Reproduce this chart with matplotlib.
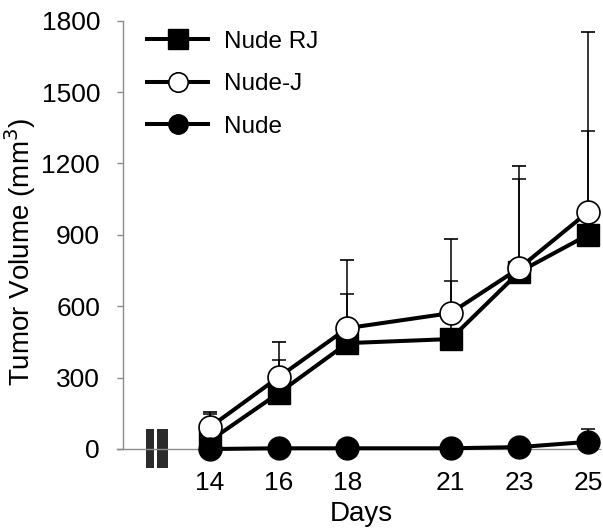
import matplotlib
matplotlib.use("Agg")
import matplotlib.pyplot as plt
from matplotlib.patches import Rectangle
from matplotlib.lines import Line2D
import matplotlib.transforms as mtransforms

plt.rcParams['font.family'] = ['Liberation Sans', 'DejaVu Sans']

days = [14, 16, 18, 21, 23, 25]
nude_rj = [35, 235, 445, 462, 744, 900]
nude_rj_err = [110, 139, 206, 244, 390, 436]
nude_j = [92, 302, 508, 571, 760, 996]
nude_j_err = [63, 148, 286, 311, 429, 756]
nude = [0, 3, 3, 3, 8, 30]
nude_err = [2, 3, 3, 4, 6, 53]
yticks = [0, 300, 600, 900, 1200, 1500, 1800]

fig = plt.figure(figsize=(6.03, 5.28), dpi=100)
ax = fig.add_axes([123/603, (528-449)/528, (600-123)/603, (449-20.7)/528])

common = dict(color='black', lw=2.9, ms=16.5, elinewidth=1.1, capsize=4.7,
              capthick=1.1, ecolor='black', clip_on=False)

ax.errorbar(days, nude_rj, yerr=[[0]*6, nude_rj_err], marker='s', mfc='black',
            mec='black', zorder=3, **common)
ax.errorbar(days, nude_j, yerr=[[0]*6, nude_j_err], marker='o', mfc='white',
            mec='black', mew=1.2, zorder=4, **common)
ax.errorbar(days, nude, yerr=[[0]*6, nude_err], marker='o', mfc='black',
            mec='black', zorder=5, **common)

ax.set_xlim(11.47, 25.35)
ax.set_ylim(0, 1800)
ax.set_yticks(yticks)
ax.set_xticks(days)

for s in ['top', 'right']:
    ax.spines[s].set_visible(False)
for s in ['left', 'bottom']:
    ax.spines[s].set_color('#8c8c8c')
    ax.spines[s].set_linewidth(1.0)
ax.spines['bottom'].set_bounds(11.3, 25.35)
ax.spines['bottom'].set_clip_on(False)

ax.tick_params(axis='y', length=4.5, width=1.0, color='#8c8c8c', pad=12,
               labelsize=19)
ax.tick_params(axis='x', length=0, pad=16, labelsize=19)

ax.set_ylabel('Tumor Volume (mm$^3$)', fontsize=20)
ax.yaxis.set_label_coords(-0.178, 0.46)
ax.set_xlabel('Days', fontsize=20)
ax.xaxis.set_label_coords(0.5, -0.121)

# axis break marks
trans = mtransforms.blended_transform_factory(ax.transData, ax.transAxes)
for x0, x1 in [(12.145, 12.386), (12.45, 12.77)]:
    ax.add_patch(Rectangle((x0, -0.045), x1 - x0, 0.092, transform=trans,
                           facecolor='#2b2b2b', edgecolor='none',
                           clip_on=False, zorder=2))

handles = [
    Line2D([], [], color='black', lw=2.9, marker='s', ms=14, mfc='black', mec='black'),
    Line2D([], [], color='black', lw=2.9, marker='o', ms=14, mfc='white', mec='black', mew=1.2),
    Line2D([], [], color='black', lw=2.9, marker='o', ms=14, mfc='black', mec='black'),
]
labels = ['Nude RJ', 'Nude-J', 'Nude']
leg = ax.legend(handles, labels, loc='upper left', bbox_to_anchor=(0.005, 1.028),
                frameon=False, fontsize=17.5, handlelength=2.5,
                handletextpad=0.65, labelspacing=0.85)

fig.savefig('out.png', dpi=100)
